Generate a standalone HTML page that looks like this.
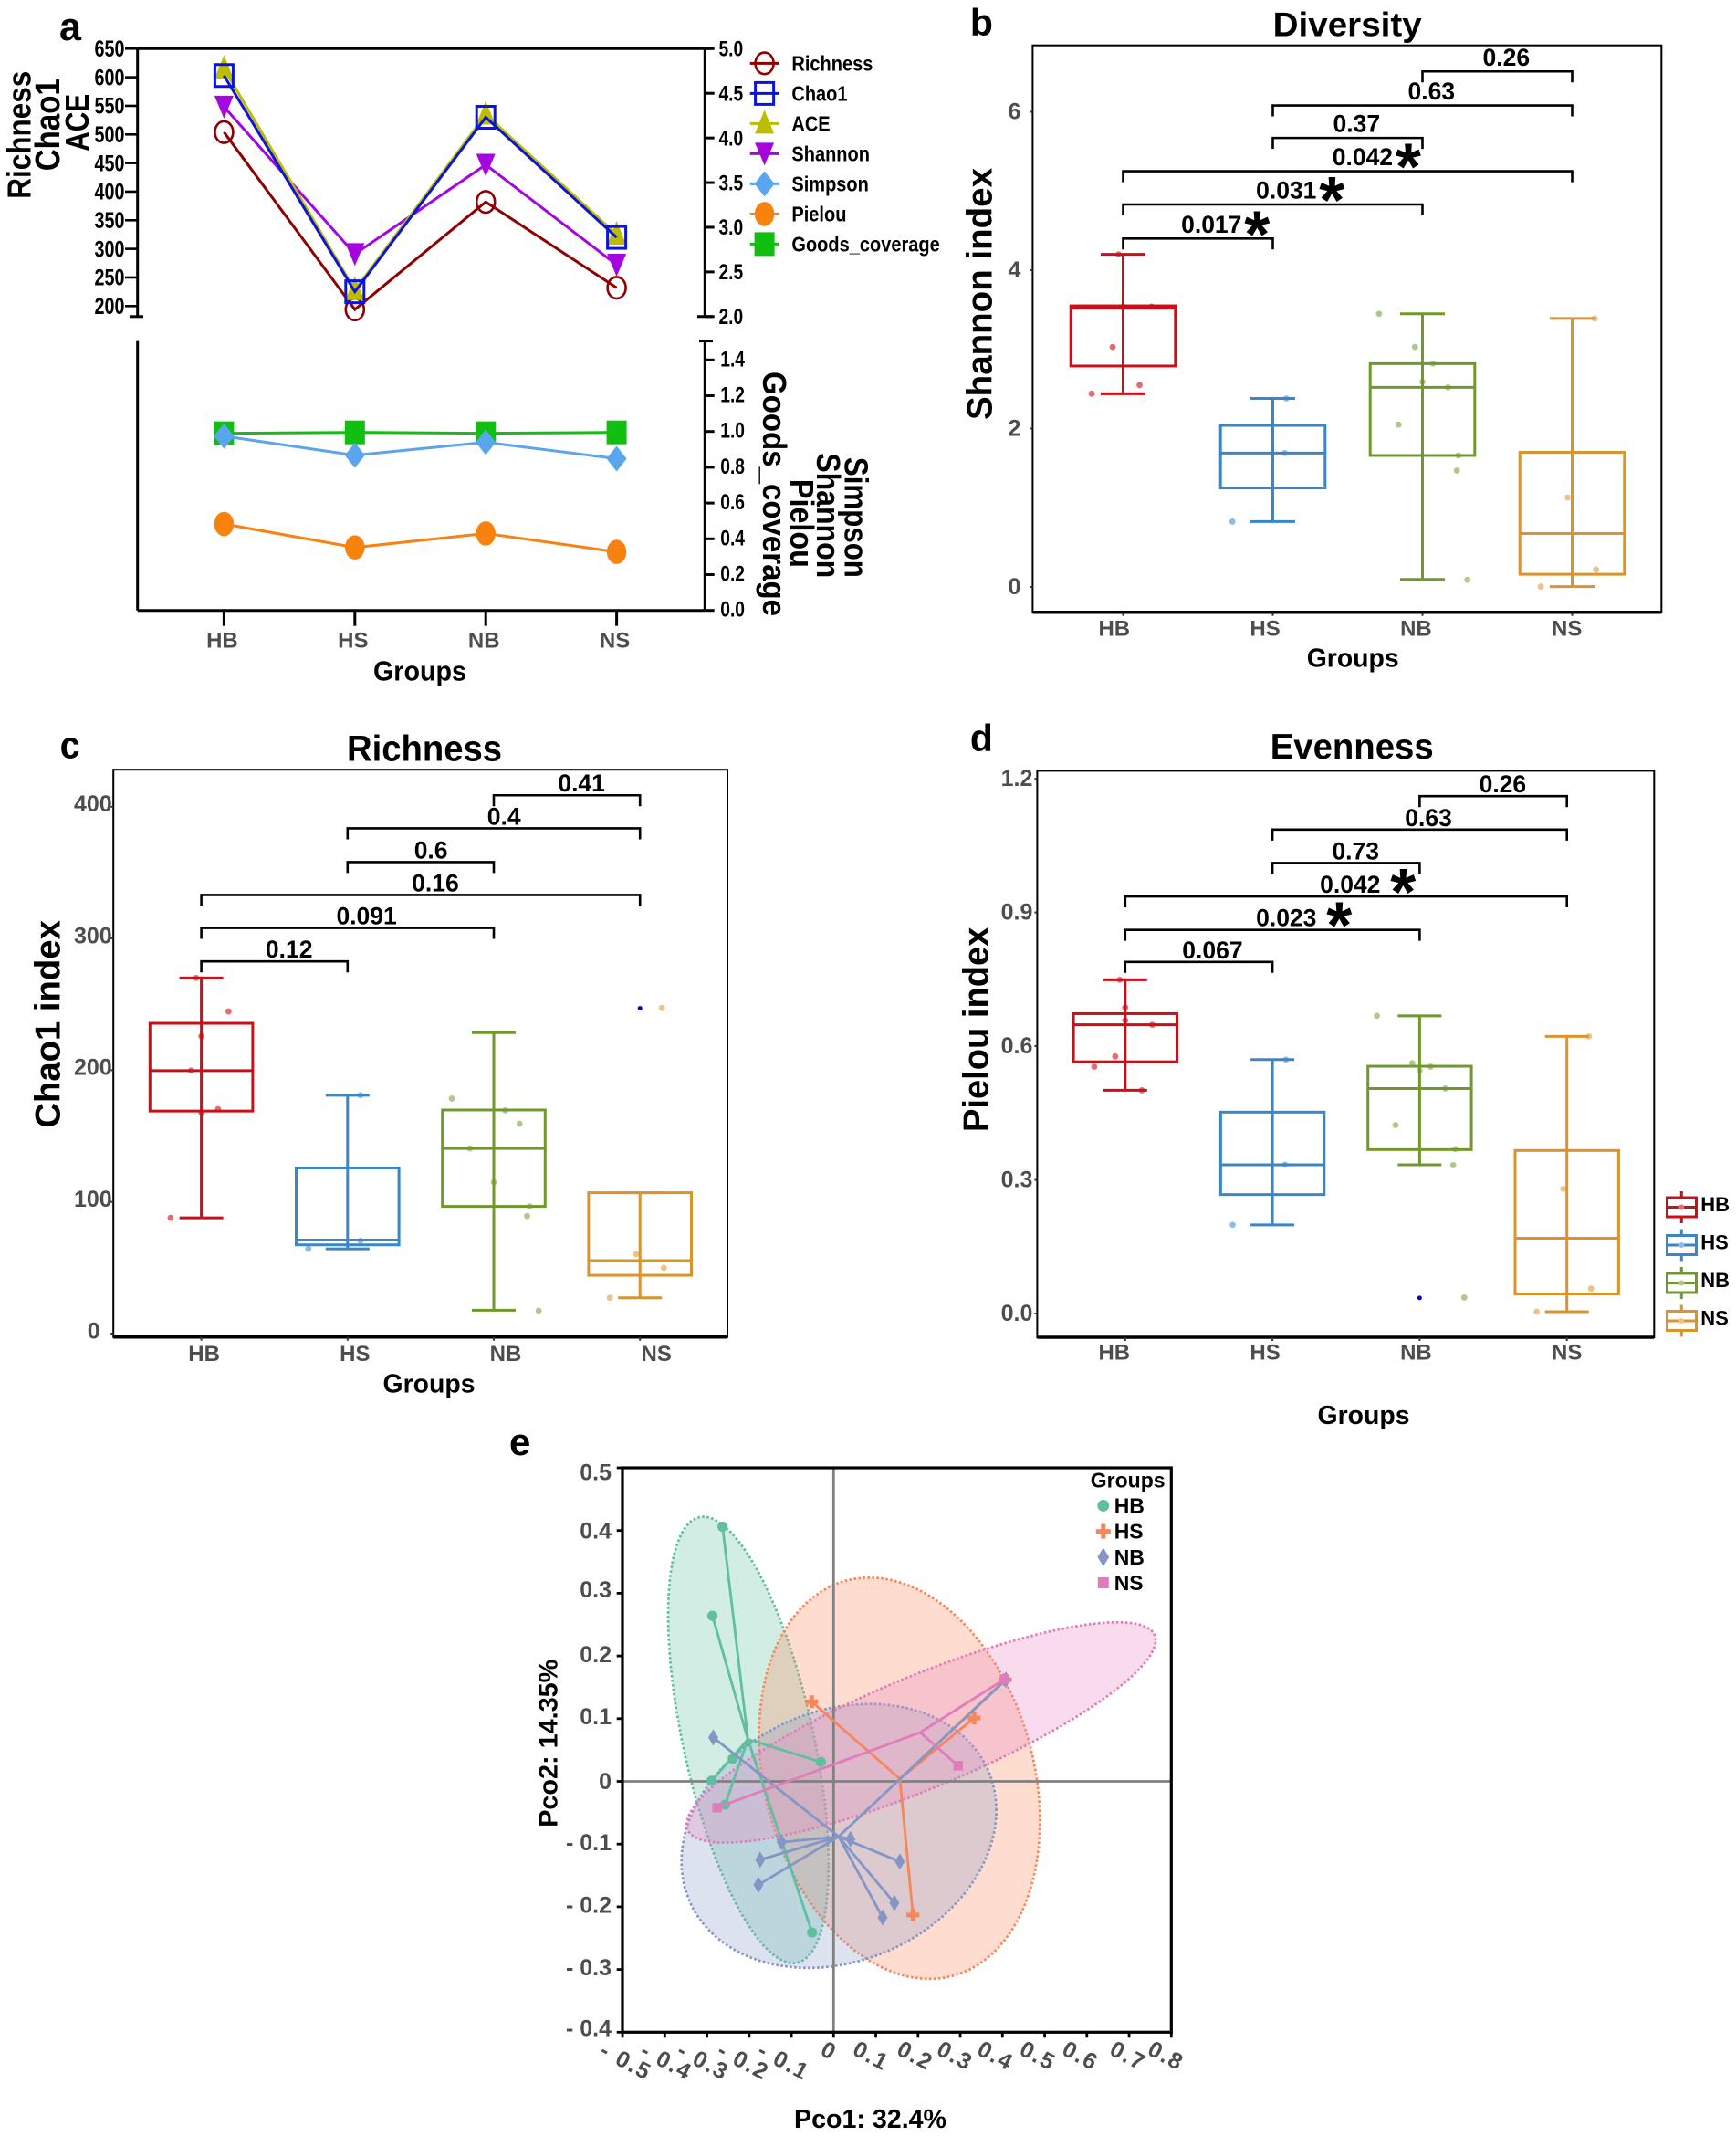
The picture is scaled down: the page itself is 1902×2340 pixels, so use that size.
<!DOCTYPE html>
<html lang="en">
<head>
<meta charset="utf-8">
<title>Alpha and beta diversity panels</title>
<style>
html,body{margin:0;padding:0;background:#fff;width:1902px;height:2340px;overflow:hidden}
svg{display:block}
svg text{font-family:"Liberation Sans",Arial,sans-serif;font-weight:bold;fill:#000}
</style>
</head>
<body>
<svg id="fig" xmlns="http://www.w3.org/2000/svg" width="1902" height="2340" viewBox="0 0 1902 2340">
  <rect x="0" y="0" width="1902" height="2340" fill="#fff"/>

  <g id="panel-a">
    <text x="65" y="44" font-size="44" textLength="24" lengthAdjust="spacingAndGlyphs">a</text>
    <text transform="translate(33.3,147.7) rotate(-90)" text-anchor="middle" font-size="36" textLength="140" lengthAdjust="spacingAndGlyphs">Richness</text>
    <text transform="translate(65,136.7) rotate(-90)" text-anchor="middle" font-size="38" textLength="101" lengthAdjust="spacingAndGlyphs">Chao1</text>
    <text transform="translate(97,134.3) rotate(-90)" text-anchor="middle" font-size="36" textLength="63" lengthAdjust="spacingAndGlyphs">ACE</text>
    <text transform="translate(836,541) rotate(90)" text-anchor="middle" font-size="36" textLength="268" lengthAdjust="spacingAndGlyphs">Goods_coverage</text>
    <text transform="translate(866,573.4) rotate(90)" text-anchor="middle" font-size="36" textLength="97" lengthAdjust="spacingAndGlyphs">Pielou</text>
    <text transform="translate(895,564.7) rotate(90)" text-anchor="middle" font-size="36" textLength="137" lengthAdjust="spacingAndGlyphs">Shannon</text>
    <text transform="translate(925.7,566.9) rotate(90)" text-anchor="middle" font-size="36" textLength="132" lengthAdjust="spacingAndGlyphs">Simpson</text>
    <text x="460" y="745.5" text-anchor="middle" font-size="31" textLength="102" lengthAdjust="spacingAndGlyphs">Groups</text>
  </g>

  <g id="panel-b">
    <text x="1062.9" y="38.8" font-size="42" textLength="25" lengthAdjust="spacingAndGlyphs">b</text>
    <text x="1476.2" y="39.7" text-anchor="middle" font-size="37" textLength="163" lengthAdjust="spacingAndGlyphs">Diversity</text>
    <text transform="translate(1086.7,322) rotate(-90)" text-anchor="middle" font-size="38.5" textLength="276" lengthAdjust="spacingAndGlyphs">Shannon index</text>
    <text x="1482.2" y="730.3" text-anchor="middle" font-size="28.5" textLength="101" lengthAdjust="spacingAndGlyphs">Groups</text>
  </g>

  <g id="panel-c">
    <text x="65.6" y="830.7" font-size="42" textLength="22" lengthAdjust="spacingAndGlyphs">c</text>
    <text x="465" y="833.7" text-anchor="middle" font-size="40" textLength="170" lengthAdjust="spacingAndGlyphs">Richness</text>
    <text transform="translate(65.6,1121.9) rotate(-90)" text-anchor="middle" font-size="38.5" textLength="227.5" lengthAdjust="spacingAndGlyphs">Chao1 index</text>
    <text x="470" y="1525.3" text-anchor="middle" font-size="28.5" textLength="101" lengthAdjust="spacingAndGlyphs">Groups</text>
  </g>

  <g id="panel-d">
    <text x="1062.9" y="822.8" font-size="42" textLength="25" lengthAdjust="spacingAndGlyphs">d</text>
    <text x="1481.2" y="831.2" text-anchor="middle" font-size="38.5" textLength="179" lengthAdjust="spacingAndGlyphs">Evenness</text>
    <text transform="translate(1082.7,1127.8) rotate(-90)" text-anchor="middle" font-size="38.5" textLength="224.5" lengthAdjust="spacingAndGlyphs">Pielou index</text>
    <text x="1494" y="1560" text-anchor="middle" font-size="28.5" textLength="101" lengthAdjust="spacingAndGlyphs">Groups</text>
  </g>

  <g id="panel-e">
    <text x="558" y="1593.8" font-size="42">e</text>
    <text transform="translate(610.7,1909.8) rotate(-90)" text-anchor="middle" font-size="29" textLength="184" lengthAdjust="spacingAndGlyphs">Pco2: 14.35%</text>
    <text x="953.5" y="2331" text-anchor="middle" font-size="29" textLength="167" lengthAdjust="spacingAndGlyphs">Pco1: 32.4%</text>
    <text x="1235.7" y="1629.6" text-anchor="middle" font-size="23">Groups</text>
  </g>
</svg>

<script>
/* ---------- panel a data ---------- */
const aGroups = ['HB', 'HS', 'NB', 'NS'];
const aRichness = [504, 194, 382, 232];
const aChao1 = [603, 225, 530, 320];
const aAce = [615, 228, 535, 325];
const aShannon = [4.35, 2.70, 3.70, 2.58];
const aSimpson = [0.974, 0.867, 0.94, 0.848];
const aPielou = [0.483, 0.352, 0.43, 0.327];
const aGoods = [0.99, 0.995, 0.99, 0.995];
const aLeftTicks = [200, 250, 300, 350, 400, 450, 500, 550, 600, 650];
const aRightTicks = ['2.0', '2.5', '3.0', '3.5', '4.0', '4.5', '5.0'];
const aLowerTicks = ['0.0', '0.2', '0.4', '0.6', '0.8', '1.0', '1.2', '1.4'];
const aLegendLabels = ['Richness', 'Chao1', 'ACE', 'Shannon', 'Simpson', 'Pielou', 'Goods_coverage'];

/* ---------- panel b data ---------- */
const boxGroups = ['HB', 'HS', 'NB', 'NS'];
const bWhiskerHigh = [4.20, 2.38, 3.45, 3.39];
const bQ3 = [3.55, 2.04, 2.82, 1.70];
const bMedian = [3.52, 1.69, 2.52, 0.675];
const bQ1 = [2.79, 1.25, 1.66, 0.16];
const bWhiskerLow = [2.44, 0.825, 0.095, 0.005];
const bPointGroup = [0,0,0,0,0,0, 1,1,1, 2,2,2,2,2,2,2,2,2, 3,3,3,3];
const bPointValue = [4.20,3.54,3.54,3.03,2.55,2.44, 2.38,1.69,0.825, 3.45,3.03,2.82,2.59,2.52,2.05,1.66,1.47,0.09, 3.39,1.13,0.22,0.005];
const bPointJitter = [-0.03,0.19,0,-0.07,0.11,-0.21, 0.09,0.08,-0.27, -0.29,-0.05,0.07,0,0.17,-0.16,0.24,0.23,0.30, 0.15,-0.03,0.16,-0.21];
const bYTicks = [0, 2, 4, 6];
const bBracketFrom = [0, 0, 0, 1, 1, 2];
const bBracketTo = [1, 2, 3, 2, 3, 3];
const bBracketLevel = [4.40, 4.83, 5.25, 5.67, 6.08, 6.51];
const bBracketLabels = ['0.017', '0.031', '0.042', '0.37', '0.63', '0.26'];
const bBracketLabelAt = [0.59, 1.09, 1.60, 1.56, 2.06, 2.56];
const bBracketStar = [1, 1, 1, 0, 0, 0];

/* ---------- panel c data ---------- */
const cWhiskerHigh = [270, 181, 228.5, 107];
const cQ3 = [235.6, 125.8, 169.8, 107];
const cMedian = [199.7, 71, 140.6, 55.4];
const cQ1 = [169, 67.4, 96.6, 44.3];
const cWhiskerLow = [87.9, 64.4, 17.8, 27.2];
const cPointGroup = [0,0,0,0,0,0,0, 1,1,1, 2,2,2,2,2,2,2,2, 3,3,3,3];
const cPointValue = [270,244.6,225.8,199.7,170.5,168,87.9, 181,70.5,64.4, 178.5,169.5,159.4,140.6,115,96.6,89.3,17.4, 247.3,60.4,50,27.2];
const cPointJitter = [-0.036,0.186,0,-0.07,0.114,0,-0.21, 0.088,0.088,-0.268, -0.287,0.078,0.176,-0.163,0,0.245,0.228,0.307, 0.15,-0.026,0.163,-0.206];
const cOutlierGroup = [3];
const cOutlierValue = [247];
const cYTicks = [0, 100, 200, 300, 400];
const cBracketFrom = [0, 0, 0, 1, 1, 2];
const cBracketTo = [1, 2, 3, 2, 3, 3];
const cBracketLevel = [282.6, 308, 333, 358, 383.6, 408.7];
const cBracketLabels = ['0.12', '0.091', '0.16', '0.6', '0.4', '0.41'];
const cBracketLabelAt = [0.60, 1.13, 1.60, 1.57, 2.07, 2.60];
const cBracketStar = [0, 0, 0, 0, 0, 0];

/* ---------- panel d data ---------- */
const dWhiskerHigh = [0.749, 0.570, 0.668, 0.622];
const dQ3 = [0.673, 0.452, 0.555, 0.366];
const dMedian = [0.648, 0.334, 0.505, 0.169];
const dQ1 = [0.565, 0.267, 0.368, 0.044];
const dWhiskerLow = [0.501, 0.199, 0.334, 0.004];
const dPointGroup = [0,0,0,0,0,0,0, 1,1,1, 2,2,2,2,2,2,2,2,2, 3,3,3,3];
const dPointValue = [0.749,0.687,0.658,0.648,0.577,0.554,0.501, 0.570,0.334,0.199, 0.668,0.562,0.554,0.545,0.505,0.423,0.369,0.333,0.036, 0.622,0.280,0.056,0.004];
const dPointJitter = [-0.037,0,0,0.184,-0.068,-0.21,0.113, 0.092,0.085,-0.27, -0.29,-0.05,0.075,0,0.174,-0.164,0.242,0.228,0.303, 0.15,-0.024,0.164,-0.205];
const dOutlierGroup = [2];
const dOutlierValue = [0.035];
const dYTicks = ['0.0', '0.3', '0.6', '0.9', '1.2'];
const dBracketFrom = [0, 0, 0, 1, 1, 2];
const dBracketTo = [1, 2, 3, 2, 3, 3];
const dBracketLevel = [0.789, 0.861, 0.936, 1.011, 1.086, 1.161];
const dBracketLabels = ['0.067', '0.023', '0.042', '0.73', '0.63', '0.26'];
const dBracketLabelAt = [0.593, 1.094, 1.528, 1.565, 2.06, 2.564];
const dBracketStar = [0, 1, 1, 0, 0, 0];

/* ---------- panel e data ---------- */
const eGroups = ['HB', 'HS', 'NB', 'NS'];
const eHBx = [-0.263, -0.287, -0.03, -0.239, -0.289, -0.257, -0.051];
const eHBy = [0.406, 0.264, 0.031, 0.036, 0.001, -0.037, -0.241];
const eHSx = [-0.052, 0.407, 0.333, 0.188];
const eHSy = [0.127, 0.162, 0.101, -0.213];
const eNBx = [-0.285, 0.408, 0.04, 0.157, 0.144, 0.116, -0.123, -0.174, -0.178];
const eNBy = [0.07, 0.162, -0.092, -0.128, -0.194, -0.217, -0.097, -0.125, -0.165];
const eNSx = [-0.276, 0.295, 0.405];
const eNSy = [-0.042, 0.025, 0.163];
const eCentroidX = [-0.203, 0.157, 0.012, 0.205];
const eCentroidY = [0.067, 0.004, -0.088, 0.078];
const eEllipseCx = [-0.202, 0.156, 0.0126, 0.2075];
const eEllipseCy = [0.066, 0.005, -0.087, 0.078];
const eEllipseSx = [0.190, 0.333, 0.373, 0.5556];
const eEllipseSy = [0.356, 0.320, 0.2105, 0.1757];
const eEllipseRho = [-0.559, -0.213, 0.194, 0.836];
const eXTicks = [-0.5, -0.4, -0.3, -0.2, -0.1, 0, 0.1, 0.2, 0.3, 0.4, 0.5, 0.6, 0.7, 0.8];
const eYTicks = [-0.4, -0.3, -0.2, -0.1, 0, 0.1, 0.2, 0.3, 0.4, 0.5];

/* ---------- helpers ---------- */
const SVGNS = 'http://www.w3.org/2000/svg';
function mk(parent, tag, attrs) {
  const el = document.createElementNS(SVGNS, tag);
  for (const k in attrs) el.setAttribute(k, attrs[k]);
  parent.appendChild(el);
  return el;
}
function line(parent, x1, y1, x2, y2, stroke, w) {
  return mk(parent, 'line', {x1: x1, y1: y1, x2: x2, y2: y2, stroke: stroke, 'stroke-width': w});
}
function label(parent, str, x, y, size, anchor, fill) {
  const el = mk(parent, 'text', {x: x, y: y, 'font-size': size, 'text-anchor': anchor || 'middle'});
  if (fill) el.style.fill = fill;
  el.textContent = str;
  return el;
}
function condense(el, f) {
  const x = el.getAttribute('x'), y = el.getAttribute('y');
  el.setAttribute('x', 0);
  el.setAttribute('y', 0);
  el.setAttribute('transform', 'translate(' + x + ' ' + y + ') scale(' + f + ' 1)');
  return el;
}
const GRAY = '#4d4d4d';

/* ---------- panel a ---------- */
(function () {
  const root = document.getElementById('panel-a');
  const L = 150.7, R = 772.3, T = 53.3, MID = 346.8, LT = 373.6, B = 668.7;
  const X0 = 245.4, STEP = 143.4;
  const xS = i => X0 + i * STEP;
  const yLeft = v => 335.3 - (v - 200) * 0.6267;
  const yRight = v => 346.8 - (v - 2) * 97.83;
  const yLower = v => 668.7 - v * 196;

  const segs = [[L, T, L, MID], [R, T, R, MID], [L, T, R, T], [L, LT, L, B], [R, LT, R, B], [L, B, R, B], [142, MID, 157, MID], [764, MID, 781, MID], [766, LT, 781, LT]];
  segs.forEach(function (s) {
    const el = line(root, s[0], s[1], s[2], s[3], '#000', 3);
    
    
  });
  aLeftTicks.forEach(function (t) {
    const tick = line(root, 137, yLeft(t), L, yLeft(t), '#000', 2.6);
    
    
    const el = condense(label(root, t, 136.5, yLeft(t) + 8.7, 25, 'end', '#000'), 0.79);
    
    
  });
  aRightTicks.forEach(function (t) {
    const tick = line(root, R, yRight(+t), 782.7, yRight(+t), '#000', 3);
    
    
    const el = condense(label(root, t, 787.5, yRight(+t) + 8.2, 24, 'start', '#000'), 0.8);
    
    
  });
  aLowerTicks.forEach(function (t) {
    const tick = line(root, R, yLower(+t), 782.7, yLower(+t), '#000', 3);
    
    
    const el = condense(label(root, t, 789.3, yLower(+t) + 7, 24, 'start', '#000'), 0.8);
    
    
  });
  aGroups.forEach(function (g, i) {
    const tick = line(root, xS(i), B, xS(i), 685.7, '#000', 3);
    
    
    const el = label(root, g, xS(i) - 2, 709.3, 24, 'middle', GRAY);
    
    
  });

  function marker(parent, kind, cx, cy, color) {
    if (kind === 'circle-open') return mk(parent, 'ellipse', {cx: cx, cy: cy, rx: 10, ry: 11.8, fill: 'none', stroke: color, 'stroke-width': 2.6});
    if (kind === 'square-open') return mk(parent, 'rect', {x: cx - 10, y: cy - 12, width: 20, height: 24, fill: 'none', stroke: color, 'stroke-width': 3});
    if (kind === 'tri-up') return mk(parent, 'polygon', {points: (cx - 10.5) + ',' + (cy + 11) + ' ' + (cx + 10.5) + ',' + (cy + 11) + ' ' + cx + ',' + (cy - 15), fill: color});
    if (kind === 'tri-down') return mk(parent, 'polygon', {points: (cx - 10.5) + ',' + (cy - 12) + ' ' + (cx + 10.5) + ',' + (cy - 12) + ' ' + cx + ',' + (cy + 13), fill: color});
    if (kind === 'diamond') return mk(parent, 'polygon', {points: cx + ',' + (cy - 14) + ' ' + (cx + 11) + ',' + cy + ' ' + cx + ',' + (cy + 14) + ' ' + (cx - 11) + ',' + cy, fill: color});
    if (kind === 'oval') return mk(parent, 'ellipse', {cx: cx, cy: cy, rx: 10.7, ry: 13.3, fill: color});
    return mk(parent, 'rect', {x: cx - 11, y: cy - 13, width: 22, height: 26, fill: color});
  }
  const series = [
    {key: 'goods', vals: aGoods, y: yLower, kind: 'square', color: '#10bf10'},
    {key: 'simpson', vals: aSimpson, y: yLower, kind: 'diamond', color: '#5aa5f0'},
    {key: 'pielou', vals: aPielou, y: yLower, kind: 'oval', color: '#f9820f'},
    {key: 'richness', vals: aRichness, y: yLeft, kind: 'circle-open', color: '#8f0000'},
    {key: 'shannon', vals: aShannon, y: yRight, kind: 'tri-down', color: '#a405e0'},
    {key: 'ace', vals: aAce, y: yLeft, kind: 'tri-up', color: '#bdbd00'},
    {key: 'chao1', vals: aChao1, y: yLeft, kind: 'square-open', color: '#0a14dc'}
  ];
  series.forEach(function (s) {
    const g = mk(root, 'g', {});
    
    
    const pts = s.vals.map((v, i) => xS(i) + ',' + s.y(v)).join(' ');
    const pl = mk(g, 'polyline', {points: pts, fill: 'none', stroke: s.color, 'stroke-width': 3});
    
    
    s.vals.forEach(function (v, i) {
      const m = marker(g, s.kind, xS(i), s.y(v), s.color);
      
      
    });
  });
  const kinds = ['circle-open', 'square-open', 'tri-up', 'tri-down', 'diamond', 'oval', 'square'];
  const colors = ['#8f0000', '#0a14dc', '#bdbd00', '#a405e0', '#5aa5f0', '#f9820f', '#10bf10'];
  aLegendLabels.forEach(function (t, i) {
    const y = 69.4 + i * 33;
    const g = mk(root, 'g', {});
    
    
    const l = line(g, 821.7, y, 853.6, y, colors[i], 3);
    
    
    const m = marker(g, kinds[i], 837.6, y, colors[i]);
    
    
    const el = condense(label(g, t, 867.4, y + 8, 23, 'start', '#000'), 0.87);
    
    
  });
})();

/* ---------- box panels ---------- */
const boxColors = ['#cb0f18', '#3a86c8', '#6f9a2b', '#d9942e'];
const dotColors = ['#e66a72', '#8fbde6', '#aec98a', '#edc287'];

function drawBoxPanel(c) {
  const root = document.getElementById(c.id);
  const xS = i => c.x0 + i * c.step;
  const yS = v => c.zero - v * c.perUnit;

  const frame = mk(root, 'rect', {x: c.l, y: c.t, width: c.r - c.l, height: c.b - c.t, fill: 'none', stroke: '#000', 'stroke-width': 2});
  
  
  const xAxis = line(root, c.l, c.b, c.r, c.b, '#000', 3.5);
  
  

  c.yTicks.forEach(function (t) {
    const y = yS(+t);
    const tick = line(root, c.l - 3, y, c.l, y, '#333', 2);
    
    
    const gap = +t === 0 && c.zeroGap ? c.zeroGap : c.tickGap;
    const el = label(root, t, c.l - gap, y + c.tickDy + 9, 25, 'end', GRAY);
    
    
  });
  boxGroups.forEach(function (g, i) {
    const tick = line(root, xS(i), c.b, xS(i), c.b + 4, '#333', 2);
    
    
    const el = label(root, g, c.labelX0 + i * c.labelStep, c.labelY, 24, 'middle', GRAY);
    
    
  });

  c.pointValue.forEach(function (v, k) {
    const gi = c.pointGroup[k];
    const dot = mk(root, 'circle', {cx: xS(gi + c.pointJitter[k]), cy: yS(v), r: 3.4, fill: dotColors[gi]});
    
    
  });

  boxGroups.forEach(function (g, i) {
    const grp = mk(root, 'g', {});
    
    
    const col = boxColors[i], cx = xS(i), sw = 3;
    const stem = line(grp, cx, yS(c.hi[i]), cx, yS(c.lo[i]), col, sw);
    
    
    const capH = line(grp, cx - c.capHalf, yS(c.hi[i]), cx + c.capHalf, yS(c.hi[i]), col, sw);
    
    
    const capL = line(grp, cx - c.capHalf, yS(c.lo[i]), cx + c.capHalf, yS(c.lo[i]), col, sw);
    
    
    const box = mk(grp, 'rect', {x: cx - c.boxHalf, y: yS(c.q3[i]), width: 2 * c.boxHalf, height: yS(c.q1[i]) - yS(c.q3[i]), fill: 'none', stroke: col, 'stroke-width': sw});
    
    
    const med = line(grp, cx - c.boxHalf, yS(c.med[i]), cx + c.boxHalf, yS(c.med[i]), col, sw);
    
    
  });

  (c.outlierValue || []).forEach(function (v, k) {
    const o = mk(root, 'circle', {cx: xS(c.outlierGroup[k]), cy: yS(v), r: 2.5, fill: '#0808c8'});
    
    
  });

  c.brFrom.forEach(function (from, k) {
    const grp = mk(root, 'g', {});
    
    
    const y = yS(c.brLevel[k]), x1 = xS(from), x2 = xS(c.brTo[k]);
    const p = mk(grp, 'polyline', {points: x1 + ',' + (y + 12) + ' ' + x1 + ',' + y + ' ' + x2 + ',' + y + ' ' + x2 + ',' + (y + 12), fill: 'none', stroke: '#000', 'stroke-width': 2.6});
    
    
    const lx = xS(c.brAt[k]);
    const t = label(grp, c.brLabels[k], lx, y - c.labelUp, 26.5, 'middle', '#000');
    
    
    if (c.brStar[k]) {
      const s = label(grp, '*', lx + c.starDx, y + 20, 72, 'middle', '#000');
      
      
    }
  });
}

drawBoxPanel({id: 'panel-b', l: 1131.4, r: 1820.3, t: 49.7, b: 670.7, x0: 1230.5, step: 164, zero: 643, perUnit: 86.75,
  boxHalf: 57.3, capHalf: 24.5, tickGap: 13, tickDy: -1, labelX0: 1220.8, labelStep: 165.3, labelY: 696.7, starDx: 50, labelUp: 6.5,
  yTicks: bYTicks, hi: bWhiskerHigh, q3: bQ3, med: bMedian, q1: bQ1, lo: bWhiskerLow,
  pointGroup: bPointGroup, pointValue: bPointValue, pointJitter: bPointJitter,
  brFrom: bBracketFrom, brTo: bBracketTo, brLevel: bBracketLevel, brLabels: bBracketLabels, brAt: bBracketLabelAt, brStar: bBracketStar});

drawBoxPanel({id: 'panel-c', l: 124.2, r: 797, t: 843.2, b: 1464.7, x0: 220.6, step: 160.2, zero: 1461, perUnit: 1.443,
  boxHalf: 56.3, capHalf: 24, tickGap: 1.5, zeroGap: 14.5, tickDy: -3.7, labelX0: 223.6, labelStep: 165.2, labelY: 1491, starDx: 50, labelUp: 4,
  yTicks: cYTicks, hi: cWhiskerHigh, q3: cQ3, med: cMedian, q1: cQ1, lo: cWhiskerLow,
  pointGroup: cPointGroup, pointValue: cPointValue, pointJitter: cPointJitter,
  outlierGroup: cOutlierGroup, outlierValue: cOutlierValue,
  brFrom: cBracketFrom, brTo: cBracketTo, brLevel: cBracketLevel, brLabels: cBracketLabels, brAt: cBracketLabelAt, brStar: cBracketStar});

drawBoxPanel({id: 'panel-d', l: 1136.4, r: 1812.3, t: 844.4, b: 1465, x0: 1232.8, step: 161.3, zero: 1439, perUnit: 488.2,
  boxHalf: 56.7, capHalf: 24, tickGap: 5, tickDy: -1, labelX0: 1220.8, labelStep: 165.3, labelY: 1489.3, starDx: 58, labelUp: 4,
  yTicks: dYTicks, hi: dWhiskerHigh, q3: dQ3, med: dMedian, q1: dQ1, lo: dWhiskerLow,
  pointGroup: dPointGroup, pointValue: dPointValue, pointJitter: dPointJitter,
  outlierGroup: dOutlierGroup, outlierValue: dOutlierValue,
  brFrom: dBracketFrom, brTo: dBracketTo, brLevel: dBracketLevel, brLabels: dBracketLabels, brAt: dBracketLabelAt, brStar: dBracketStar});

/* legend for panel d */
(function () {
  const root = document.getElementById('panel-d');
  boxGroups.forEach(function (g, i) {
    const y = 1322.5 + i * 41.5, col = boxColors[i];
    const grp = mk(root, 'g', {});
    
    
    const w = line(grp, 1842.3, y - 17.5, 1842.3, y + 17.5, col, 3);
    
    
    const b = mk(grp, 'rect', {x: 1826.5, y: y - 10.5, width: 32, height: 21, fill: '#fff', stroke: col, 'stroke-width': 3});
    
    
    const m = line(grp, 1826.5, y, 1858.5, y, col, 3);
    
    
    const d = mk(grp, 'circle', {cx: 1842.3, cy: y, r: 3, fill: dotColors[i]});
    
    
    const t = label(grp, g, 1863.3, y + 4.5, 22, 'start', '#000');
    
    
  });
})();

/* ---------- panel e ---------- */
const eYLabelNudge = [-4.6, -2.6, -2.3, -2.2, -0.5, -2.4, -1.7, -4, 0, 4.7];
const eXLabelNudge = [3.9, 2.1, -3.9, -6.2, -8.3, -4.8, -5, -2.8, -5.5, -7.3, -7.2, -6.8, -1, -5.6];
(function () {
  const root = document.getElementById('panel-e');
  const L = 682, R = 1283.3, T = 1608, B = 2226.3;
  const xS = v => 913.3 + v * 462.5;
  const yS = v => 1951.5 - v * 687;
  const cols = ['#66c2a5', '#fc8d62', '#8da0cb', '#e78ac3'];
  const strokes = ['#5fbf9f', '#f5875a', '#8496c6', '#e07cbc'];
  const xs = [eHBx, eHSx, eNBx, eNSx];
  const ys = [eHBy, eHSy, eNBy, eNSy];

  eGroups.forEach(function (g, i) {
    let d = '';
    for (let a = 0; a < 96; a++) {
      const t = a / 96 * 2 * Math.PI;
      const ex = eEllipseCx[i] + eEllipseSx[i] * Math.cos(t);
      const rho = eEllipseRho[i];
      const ey = eEllipseCy[i] + eEllipseSy[i] * (rho * Math.cos(t) + Math.sqrt(1 - rho * rho) * Math.sin(t));
      d += (a ? 'L' : 'M') + xS(ex).toFixed(1) + ' ' + yS(ey).toFixed(1);
    }
    const el = mk(root, 'path', {d: d + 'Z', fill: cols[i], 'fill-opacity': 0.3, stroke: strokes[i], 'stroke-width': 2.7, 'stroke-dasharray': '2.6 2.4'});
    
    
  });

  const v0 = line(root, xS(0), T, xS(0), B, '#808080', 2.8);
  
  
  const h0 = line(root, L, yS(0), R, yS(0), '#808080', 2.8);
  
  

  function marker(parent, i, cx, cy, s) {
    const c = strokes[i];
    if (i === 0) return mk(parent, 'circle', {cx: cx, cy: cy, r: 5.6 * s, fill: c});
    if (i === 1) return mk(parent, 'path', {d: 'M' + (cx - 7 * s) + ' ' + cy + 'H' + (cx + 7 * s) + 'M' + cx + ' ' + (cy - 7 * s) + 'V' + (cy + 7 * s), stroke: c, 'stroke-width': 5, fill: 'none'});
    if (i === 2) return mk(parent, 'polygon', {points: cx + ',' + (cy - 9 * s) + ' ' + (cx + 5.5 * s) + ',' + cy + ' ' + cx + ',' + (cy + 9 * s) + ' ' + (cx - 5.5 * s) + ',' + cy, fill: c});
    return mk(parent, 'rect', {x: cx - 5.2 * s, y: cy - 5.2 * s, width: 10.4 * s, height: 10.4 * s, fill: c});
  }
  eGroups.forEach(function (g, i) {
    const grp = mk(root, 'g', {});
    
    
    xs[i].forEach(function (vx, k) {
      const l = line(grp, xS(eCentroidX[i]), yS(eCentroidY[i]), xS(vx), yS(ys[i][k]), strokes[i], 2.8);
      
      
    });
    xs[i].forEach(function (vx, k) {
      const m = marker(grp, i, xS(vx), yS(ys[i][k]), 1);
      
      
    });
  });

  const ax = mk(root, 'rect', {x: L, y: T, width: R - L, height: B - T, fill: 'none', stroke: '#000', 'stroke-width': 3.2});
  
  

  const fmt = v => v === 0 ? '0' : (v < 0 ? '- ' : '') + Math.abs(v).toFixed(1);
  eYTicks.forEach(function (v, k) {
    const tick = line(root, L - 6.3, yS(v), L, yS(v), '#000', 2.8);
    
    
    const t = label(root, fmt(v), 670, yS(v) + eYLabelNudge[k] + 8.8, 25, 'end', GRAY);
    
    
  });
  eXTicks.forEach(function (v, k) {
    const tick = line(root, xS(v), B, xS(v), B + 6, '#000', 2.8);
    
    
    const cx = xS(v) + eXLabelNudge[k];
    const cy = v < 0 ? 2258 : (v === 0 ? 2246.6 : 2252);
    const t = mk(root, 'text', {transform: 'translate(' + cx + ',' + cy + ') rotate(28)', 'text-anchor': 'middle', y: 8.5, 'font-size': 25, 'letter-spacing': 2});
    t.style.fill = GRAY;
    t.textContent = fmt(v);
    
    
  });

  eGroups.forEach(function (g, i) {
    const y = 1649.4 + i * 28.2;
    const grp = mk(root, 'g', {});
    
    
    const m = marker(grp, i, 1208.8, y, 1.15);
    
    
    const t = label(grp, g, 1220.7, y + 8, 23, 'start', '#000');
    
    
  });
})();
</script>
</body>
</html>
